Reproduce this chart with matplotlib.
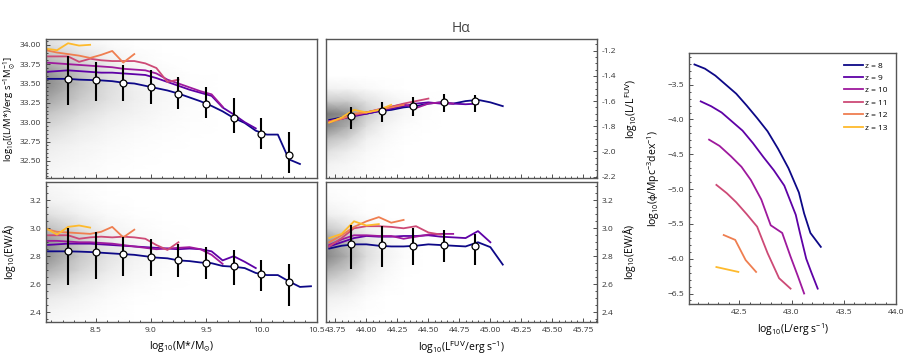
import numpy as np
import matplotlib
matplotlib.use("Agg")
import matplotlib.pyplot as plt
from matplotlib.ticker import MultipleLocator, AutoMinorLocator, FormatStrFormatter

plt.rcParams['font.family'] = ['Open Sans', 'DejaVu Sans']
plt.rcParams['mathtext.default'] = 'regular'
plt.rcParams['mathtext.fontset'] = 'dejavusans'
plt.rcParams['axes.unicode_minus'] = True

# ---------------- data ----------------
redshifts = [8, 9, 10, 11, 12, 13]

# top-left: log10(L/M*) vs log10(M*)
tl_x = {
    8: [8.05, 8.15, 8.25, 8.35, 8.45, 8.55, 8.65, 8.75, 8.85, 8.95, 9.05, 9.15, 9.25, 9.35, 9.45, 9.55, 9.65, 9.75, 9.85, 9.95, 10.05, 10.15, 10.25, 10.35],
    9: [8.05, 8.15, 8.25, 8.35, 8.45, 8.55, 8.65, 8.75, 8.85, 8.95, 9.05, 9.15, 9.25, 9.35, 9.45, 9.55, 9.65, 9.75, 9.85, 9.95],
    10: [8.05, 8.15, 8.25, 8.35, 8.45, 8.55, 8.65, 8.75, 8.85, 8.95, 9.05, 9.15, 9.25, 9.35, 9.45, 9.55, 9.65],
    11: [8.05, 8.15, 8.25, 8.35, 8.45, 8.55, 8.65, 8.75, 8.85, 8.95, 9.05, 9.15, 9.25],
    12: [8.05, 8.15, 8.25, 8.35, 8.45, 8.55, 8.65, 8.75, 8.85],
    13: [8.05, 8.15, 8.25, 8.35, 8.45],
}
tl_y = {
    8: [33.56, 33.56, 33.56, 33.55, 33.545, 33.54, 33.53, 33.51, 33.50, 33.47, 33.44, 33.41, 33.37, 33.32, 33.27, 33.21, 33.14, 33.055, 32.99, 32.89, 32.84, 32.84, 32.52, 32.46],
    9: [33.65, 33.66, 33.67, 33.66, 33.65, 33.64, 33.64, 33.63, 33.62, 33.61, 33.57, 33.52, 33.47, 33.42, 33.38, 33.34, 33.19, 33.10, 33.00, 32.92],
    10: [33.77, 33.76, 33.75, 33.74, 33.73, 33.72, 33.71, 33.69, 33.68, 33.67, 33.63, 33.55, 33.50, 33.45, 33.40, 33.36, 33.20],
    11: [33.85, 33.85, 33.85, 33.78, 33.82, 33.80, 33.79, 33.79, 33.79, 33.76, 33.70, 33.52, 33.55],
    12: [33.93, 33.90, 33.88, 33.86, 33.83, 33.87, 33.92, 33.77, 33.88],
    13: [33.95, 33.93, 34.02, 33.99, 34.00],
}
mass_med_x = [8.25, 8.5, 8.75, 9.0, 9.25, 9.5, 9.75, 10.0, 10.25]
tl_med = [33.56, 33.55, 33.51, 33.45, 33.36, 33.24, 33.05, 32.85, 32.58]
tl_lo = [33.22, 33.27, 33.27, 33.24, 33.17, 33.05, 32.86, 32.65, 32.34]
tl_hi = [33.85, 33.78, 33.74, 33.67, 33.58, 33.45, 33.31, 33.05, 32.87]

# bottom-left: log10(EW) vs log10(M*)
bl_x = {
    8: [8.05, 8.15, 8.25, 8.35, 8.45, 8.55, 8.65, 8.75, 8.85, 8.95, 9.05, 9.15, 9.25, 9.35, 9.45, 9.55, 9.65, 9.75, 9.85, 9.95, 10.05, 10.15, 10.25, 10.35, 10.45],
    9: [8.05, 8.15, 8.25, 8.35, 8.45, 8.55, 8.65, 8.75, 8.85, 8.95, 9.05, 9.15, 9.25, 9.35, 9.45, 9.55, 9.65, 9.75, 9.85, 9.95],
    10: [8.05, 8.15, 8.25, 8.35, 8.45, 8.55, 8.65, 8.75, 8.85, 8.95, 9.05, 9.15, 9.25, 9.35, 9.45, 9.55, 9.65],
    11: [8.05, 8.15, 8.25, 8.35, 8.45, 8.55, 8.65, 8.75, 8.85, 8.95, 9.05, 9.15, 9.25],
    12: [8.05, 8.15, 8.25, 8.35, 8.45, 8.55, 8.65, 8.75, 8.85],
    13: [8.05, 8.15, 8.25, 8.35, 8.45],
}
bl_y = {
    8: [2.835, 2.835, 2.835, 2.833, 2.83, 2.825, 2.82, 2.815, 2.81, 2.80, 2.79, 2.785, 2.77, 2.765, 2.755, 2.75, 2.73, 2.725, 2.715, 2.68, 2.665, 2.665, 2.62, 2.58, 2.585],
    9: [2.88, 2.885, 2.89, 2.89, 2.89, 2.885, 2.88, 2.875, 2.87, 2.865, 2.86, 2.855, 2.85, 2.855, 2.85, 2.835, 2.77, 2.80, 2.76, 2.715],
    10: [2.91, 2.91, 2.905, 2.90, 2.90, 2.895, 2.89, 2.88, 2.87, 2.86, 2.85, 2.855, 2.86, 2.865, 2.85, 2.81, 2.745],
    11: [2.95, 2.95, 2.95, 2.925, 2.935, 2.94, 2.935, 2.94, 2.935, 2.925, 2.88, 2.845, 2.90],
    12: [2.995, 2.975, 2.97, 2.965, 2.96, 2.975, 3.01, 2.935, 2.99],
    13: [3.00, 2.955, 3.01, 3.02, 3.005],
}
bl_med = [2.835, 2.83, 2.815, 2.796, 2.77, 2.753, 2.727, 2.675, 2.615]
bl_lo = [2.595, 2.64, 2.658, 2.658, 2.65, 2.64, 2.596, 2.548, 2.443]
bl_hi = [3.0, 2.973, 2.937, 2.92, 2.89, 2.867, 2.843, 2.77, 2.746]

# top-middle: log10(L/L_FUV) vs log10(L_FUV)
tm_x = {
    8: [43.7, 43.8, 43.9, 44.0, 44.1, 44.2, 44.3, 44.4, 44.5, 44.6, 44.7, 44.8, 44.9, 45.0, 45.1],
    9: [43.7, 43.8, 43.9, 44.0, 44.1, 44.2, 44.3, 44.4, 44.5, 44.6, 44.7, 44.8, 44.9],
    10: [43.7, 43.8, 43.9, 44.0, 44.1, 44.2, 44.3, 44.4, 44.5, 44.6, 44.7],
    11: [43.7, 43.8, 43.9, 44.0, 44.1, 44.2, 44.3, 44.4, 44.5],
    12: [43.7, 43.8, 43.9, 44.0, 44.1, 44.2, 44.3],
    13: [43.7, 43.8, 43.9, 44.0, 44.1, 44.2],
}
tm_y = {
    8: [-1.75, -1.73, -1.71, -1.70, -1.68, -1.67, -1.65, -1.64, -1.62, -1.61, -1.62, -1.60, -1.59, -1.61, -1.64],
    9: [-1.76, -1.74, -1.72, -1.70, -1.68, -1.66, -1.64, -1.62, -1.61, -1.62, -1.62, -1.625, -1.62],
    10: [-1.76, -1.74, -1.71, -1.69, -1.67, -1.645, -1.625, -1.655, -1.62, -1.61, -1.62],
    11: [-1.76, -1.74, -1.71, -1.69, -1.665, -1.645, -1.62, -1.60, -1.58],
    12: [-1.77, -1.74, -1.70, -1.69, -1.67, -1.65, -1.63],
    13: [-1.77, -1.73, -1.67, -1.69, -1.67, -1.63],
}
fuv_med_x = [43.875, 44.125, 44.375, 44.625, 44.875]
tm_med = [-1.72, -1.68, -1.64, -1.61, -1.60]
tm_lo = [-1.825, -1.765, -1.72, -1.69, -1.685]
tm_hi = [-1.645, -1.61, -1.565, -1.54, -1.555]

# bottom-middle: log10(EW) vs log10(L_FUV)
bm_x = {
    8: [43.7, 43.8, 43.9, 44.0, 44.1, 44.2, 44.3, 44.4, 44.5, 44.6, 44.7, 44.8, 44.9, 45.0, 45.1],
    9: [43.7, 43.8, 43.9, 44.0, 44.1, 44.2, 44.3, 44.4, 44.5, 44.6, 44.7, 44.8, 44.9, 45.0],
    10: [43.7, 43.8, 43.9, 44.0, 44.1, 44.2, 44.3, 44.4, 44.5, 44.6, 44.7],
    11: [43.7, 43.8, 43.9, 44.0, 44.1, 44.2, 44.3, 44.4, 44.5, 44.6],
    12: [43.7, 43.8, 43.9, 44.0, 44.1, 44.2, 44.3],
    13: [43.7, 43.8, 43.9, 44.0, 44.1],
}
bm_y = {
    8: [2.855, 2.875, 2.885, 2.885, 2.875, 2.87, 2.87, 2.875, 2.885, 2.88, 2.875, 2.87, 2.90, 2.865, 2.74],
    9: [2.87, 2.90, 2.93, 2.945, 2.94, 2.94, 2.945, 2.945, 2.95, 2.94, 2.935, 2.93, 2.98, 2.90],
    10: [2.88, 2.92, 2.95, 2.95, 2.945, 2.945, 2.925, 2.94, 2.955, 2.96, 2.96],
    11: [2.87, 2.93, 3.00, 3.015, 3.015, 3.01, 3.00, 3.015, 2.97, 2.955],
    12: [2.90, 2.95, 3.01, 3.05, 3.08, 3.04, 3.06],
    13: [2.93, 2.96, 3.05, 3.02, 3.03],
}
bm_med = [2.885, 2.878, 2.873, 2.882, 2.873]
bm_lo = [2.71, 2.72, 2.74, 2.76, 2.74]
bm_hi = [3.026, 3.02, 3.0, 2.99, 2.96]

# right: luminosity function
lf_x = {
    8: [42.07, 42.17, 42.27, 42.37, 42.47, 42.57, 42.67, 42.77, 42.87, 42.97, 43.07, 43.12, 43.18, 43.28],
    9: [42.13, 42.23, 42.33, 42.43, 42.53, 42.63, 42.73, 42.83, 42.93, 43.04, 43.08, 43.14, 43.19, 43.25],
    10: [42.21, 42.31, 42.42, 42.52, 42.61, 42.71, 42.80, 42.91, 42.99, 43.06, 43.12],
    11: [42.28, 42.38, 42.47, 42.57, 42.67, 42.77, 42.88, 42.99],
    12: [42.35, 42.46, 42.56, 42.66],
    13: [42.28, 42.49],
}
lf_y = {
    8: [-3.21, -3.27, -3.37, -3.50, -3.63, -3.80, -3.98, -4.17, -4.42, -4.70, -5.05, -5.35, -5.63, -5.83],
    9: [-3.74, -3.81, -3.90, -4.03, -4.16, -4.34, -4.54, -4.73, -4.95, -5.37, -5.63, -6.00, -6.20, -6.43],
    10: [-4.29, -4.38, -4.53, -4.68, -4.87, -5.15, -5.52, -5.63, -5.97, -6.25, -6.50],
    11: [-4.94, -5.06, -5.19, -5.36, -5.54, -5.92, -6.28, -6.43],
    12: [-5.66, -5.73, -6.02, -6.19],
    13: [-6.12, -6.19],
}

# background density (grey shading)
tl_dx = [8.05, 8.35, 8.6, 8.85, 9.1, 9.35, 9.6]
tl_dy = [32.28, 32.5, 32.7, 32.9, 33.1, 33.3, 33.5, 33.65, 33.8, 34.0, 34.07]
tl_dens = [  # rows: y, cols: x
    [0.06, 0.03, 0.01, 0.00, 0.00, 0.00, 0.00],
    [0.10, 0.06, 0.03, 0.01, 0.00, 0.00, 0.00],
    [0.15, 0.09, 0.05, 0.03, 0.01, 0.00, 0.00],
    [0.24, 0.15, 0.09, 0.05, 0.03, 0.01, 0.00],
    [0.34, 0.23, 0.15, 0.10, 0.05, 0.02, 0.00],
    [0.46, 0.32, 0.22, 0.14, 0.07, 0.03, 0.00],
    [0.55, 0.38, 0.24, 0.13, 0.06, 0.02, 0.00],
    [0.50, 0.34, 0.20, 0.10, 0.04, 0.00, 0.00],
    [0.40, 0.26, 0.13, 0.05, 0.01, 0.00, 0.00],
    [0.24, 0.12, 0.05, 0.01, 0.00, 0.00, 0.00],
    [0.20, 0.09, 0.03, 0.00, 0.00, 0.00, 0.00],
]
bl_dx = [8.05, 8.35, 8.6, 8.85, 9.1, 9.35]
bl_dy = [2.33, 2.4, 2.5, 2.6, 2.7, 2.8, 2.9, 3.0, 3.1, 3.2, 3.33]
bl_dens = [
    [0.06, 0.03, 0.01, 0.00, 0.00, 0.00],
    [0.09, 0.05, 0.02, 0.00, 0.00, 0.00],
    [0.16, 0.10, 0.04, 0.01, 0.00, 0.00],
    [0.27, 0.17, 0.09, 0.04, 0.01, 0.00],
    [0.42, 0.27, 0.16, 0.08, 0.03, 0.00],
    [0.52, 0.33, 0.20, 0.11, 0.05, 0.01],
    [0.52, 0.32, 0.17, 0.08, 0.03, 0.00],
    [0.37, 0.22, 0.10, 0.04, 0.01, 0.00],
    [0.22, 0.12, 0.04, 0.01, 0.00, 0.00],
    [0.11, 0.05, 0.01, 0.00, 0.00, 0.00],
    [0.05, 0.02, 0.00, 0.00, 0.00, 0.00],
]
tm_dx = [43.67, 43.85, 44.0, 44.15, 44.3, 44.45, 44.6]
tm_dy = [-2.21, -2.1, -2.0, -1.9, -1.8, -1.7, -1.6, -1.5, -1.4]
tm_dens = [
    [0.06, 0.04, 0.02, 0.00, 0.00, 0.00, 0.00],
    [0.11, 0.07, 0.03, 0.01, 0.00, 0.00, 0.00],
    [0.22, 0.14, 0.06, 0.02, 0.00, 0.00, 0.00],
    [0.37, 0.27, 0.12, 0.05, 0.01, 0.00, 0.00],
    [0.56, 0.42, 0.22, 0.09, 0.03, 0.01, 0.00],
    [0.60, 0.52, 0.32, 0.16, 0.07, 0.02, 0.00],
    [0.32, 0.31, 0.21, 0.13, 0.06, 0.02, 0.00],
    [0.11, 0.09, 0.05, 0.02, 0.00, 0.00, 0.00],
    [0.00, 0.00, 0.00, 0.00, 0.00, 0.00, 0.00],
]
bm_dx = [43.67, 43.85, 44.0, 44.15, 44.3, 44.45]
bm_dy = [2.33, 2.4, 2.5, 2.6, 2.7, 2.8, 2.9, 3.0, 3.1, 3.2, 3.33]
bm_dens = [
    [0.04, 0.02, 0.00, 0.00, 0.00, 0.00],
    [0.06, 0.03, 0.01, 0.00, 0.00, 0.00],
    [0.13, 0.09, 0.03, 0.00, 0.00, 0.00],
    [0.26, 0.19, 0.09, 0.03, 0.00, 0.00],
    [0.42, 0.32, 0.16, 0.07, 0.01, 0.00],
    [0.56, 0.42, 0.23, 0.11, 0.03, 0.00],
    [0.52, 0.37, 0.21, 0.09, 0.02, 0.00],
    [0.32, 0.21, 0.11, 0.04, 0.00, 0.00],
    [0.13, 0.07, 0.02, 0.00, 0.00, 0.00],
    [0.05, 0.02, 0.00, 0.00, 0.00, 0.00],
    [0.00, 0.00, 0.00, 0.00, 0.00, 0.00],
]

# ---------------- style ----------------
cmap = plt.get_cmap('plasma')
colors = {z: cmap(v) for z, v in zip(redshifts, np.linspace(0.0, 0.85, len(redshifts)))}
frame_col = '#555555'
tick_fs = 6
lab_fs = 7.5

fig = plt.figure(figsize=(9.19, 3.58), dpi=100)
ax_tl = fig.add_axes([0.050, 0.503, 0.2944, 0.387])
ax_tm = fig.add_axes([0.3542, 0.503, 0.2954, 0.387])
ax_bl = fig.add_axes([0.050, 0.101, 0.2944, 0.390])
ax_bm = fig.add_axes([0.3542, 0.101, 0.2954, 0.390])
ax_r = fig.add_axes([0.750, 0.151, 0.225, 0.700])


def style(ax):
    for s in ax.spines.values():
        s.set_color(frame_col)
        s.set_linewidth(1.0)
    ax.tick_params(which='both', direction='in', labelsize=tick_fs, colors='#333333',
                   labelcolor='#333333', width=0.6)
    ax.tick_params(which='major', length=3)
    ax.tick_params(which='minor', length=1.6)


def shade(ax, dx, dy, dens):
    ax.pcolormesh(dx, dy, np.array(dens), shading='gouraud', cmap='Greys',
                  vmin=0, vmax=1.0, zorder=0, rasterized=True)


def panel(ax, xs, ys, mx, med, lo, hi):
    for z in redshifts:
        ax.plot(xs[z], ys[z], color=colors[z], lw=1.3, zorder=2)
    med = np.array(med)
    yerr = [med - np.array(lo), np.array(hi) - med]
    ax.errorbar(mx, med, yerr=yerr, fmt='o', color='black', ecolor='black', elinewidth=1.5,
                capsize=0, mfc='white', mec='black', mew=0.9, ms=5, zorder=4)


# top-left
shade(ax_tl, tl_dx, tl_dy, tl_dens)
panel(ax_tl, tl_x, tl_y, mass_med_x, tl_med, tl_lo, tl_hi)
ax_tl.set_xlim(8.05, 10.5)
ax_tl.set_ylim(32.28, 34.07)
ax_tl.yaxis.set_major_locator(MultipleLocator(0.25))
ax_tl.yaxis.set_major_formatter(FormatStrFormatter('%.2f'))
ax_tl.yaxis.set_minor_locator(AutoMinorLocator(5))
ax_tl.xaxis.set_major_locator(MultipleLocator(0.5))
ax_tl.xaxis.set_minor_locator(AutoMinorLocator(5))
ax_tl.tick_params(labelbottom=False)
ax_tl.set_ylabel(r'log$_{10}$[(L/M*)/erg s$^{-1}$M$_{\odot}^{-1}$]', fontsize=6.8, labelpad=2)
style(ax_tl)

# bottom-left
shade(ax_bl, bl_dx, bl_dy, bl_dens)
panel(ax_bl, bl_x, bl_y, mass_med_x, bl_med, bl_lo, bl_hi)
ax_bl.set_xlim(8.05, 10.5)
ax_bl.set_ylim(2.33, 3.33)
ax_bl.yaxis.set_major_locator(MultipleLocator(0.2))
ax_bl.yaxis.set_major_formatter(FormatStrFormatter('%.1f'))
ax_bl.yaxis.set_minor_locator(AutoMinorLocator(4))
ax_bl.xaxis.set_major_locator(MultipleLocator(0.5))
ax_bl.xaxis.set_major_formatter(FormatStrFormatter('%.1f'))
ax_bl.xaxis.set_minor_locator(AutoMinorLocator(5))
ax_bl.set_ylabel('log$_{10}$(EW/Å)', fontsize=lab_fs, labelpad=8)
ax_bl.set_xlabel(r'log$_{10}$(M*/M$_{\odot}$)', fontsize=lab_fs)
style(ax_bl)

# top-middle
shade(ax_tm, tm_dx, tm_dy, tm_dens)
panel(ax_tm, tm_x, tm_y, fuv_med_x, tm_med, tm_lo, tm_hi)
ax_tm.set_xlim(43.67, 45.86)
ax_tm.set_ylim(-2.21, -1.11)
ax_tm.yaxis.set_major_locator(MultipleLocator(0.2))
ax_tm.yaxis.set_major_formatter(FormatStrFormatter('%.1f'))
ax_tm.yaxis.set_minor_locator(AutoMinorLocator(4))
ax_tm.xaxis.set_major_locator(MultipleLocator(0.25))
ax_tm.xaxis.set_minor_locator(AutoMinorLocator(5))
ax_tm.yaxis.tick_right()
ax_tm.yaxis.set_label_position('right')
ax_tm.tick_params(labelbottom=False)
ax_tm.set_ylabel(r'log$_{10}$(L/L$^{\rm FUV}$)', fontsize=lab_fs, labelpad=5)
ax_tm.set_title('Hα', fontsize=10, color='#444444', pad=5)
style(ax_tm)

# bottom-middle
shade(ax_bm, bm_dx, bm_dy, bm_dens)
panel(ax_bm, bm_x, bm_y, fuv_med_x, bm_med, bm_lo, bm_hi)
ax_bm.set_xlim(43.67, 45.86)
ax_bm.set_ylim(2.33, 3.33)
ax_bm.yaxis.set_major_locator(MultipleLocator(0.2))
ax_bm.yaxis.set_major_formatter(FormatStrFormatter('%.1f'))
ax_bm.yaxis.set_minor_locator(AutoMinorLocator(4))
ax_bm.xaxis.set_major_locator(MultipleLocator(0.25))
ax_bm.xaxis.set_major_formatter(FormatStrFormatter('%.2f'))
ax_bm.xaxis.set_minor_locator(AutoMinorLocator(5))
ax_bm.yaxis.tick_right()
ax_bm.yaxis.set_label_position('right')
ax_bm.set_ylabel('log$_{10}$(EW/Å)', fontsize=lab_fs, labelpad=5)
ax_bm.set_xlabel(r'log$_{10}$(L$^{\rm FUV}$/erg s$^{-1}$)', fontsize=lab_fs)
style(ax_bm)

# right: luminosity function
for z in redshifts:
    ax_r.plot(lf_x[z], lf_y[z], color=colors[z], lw=1.3, label=f'z = {z}')
ax_r.set_xlim(42.02, 44.0)
ax_r.set_ylim(-6.65, -3.05)
ax_r.xaxis.set_major_locator(MultipleLocator(0.5))
ax_r.xaxis.set_minor_locator(AutoMinorLocator(5))
ax_r.yaxis.set_major_locator(MultipleLocator(0.5))
ax_r.yaxis.set_minor_locator(AutoMinorLocator(5))
ax_r.set_xlabel(r'log$_{10}$(L/erg s$^{-1}$)', fontsize=lab_fs)
ax_r.set_ylabel(r'log$_{10}$($\phi$/Mpc$^{-3}$dex$^{-1}$)', fontsize=lab_fs)
leg = ax_r.legend(loc='upper right', fontsize=6, frameon=False, handlelength=2.2,
                  handletextpad=0.3, labelspacing=0.55, borderaxespad=0.6)
style(ax_r)

fig.savefig('out.png', dpi=100)
